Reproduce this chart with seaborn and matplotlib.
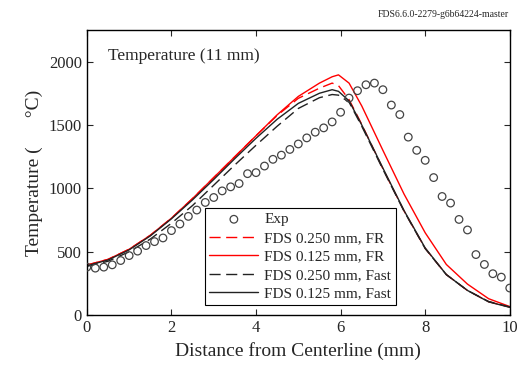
import numpy as np
import pandas as pd
import matplotlib
matplotlib.use("Agg")
import matplotlib.pyplot as plt
import seaborn as sns

# experimental data (every 0.2 mm)
exp_x = [round(0.2 * i, 1) for i in range(51)]
exp_t = [379, 371, 379, 397, 431, 470, 505, 549, 580, 609,
         667, 719, 779, 829, 889, 928, 980, 1012, 1038, 1116,
         1124, 1176, 1229, 1262, 1307, 1350, 1398, 1443, 1477, 1524,
         1600, 1712, 1770, 1817, 1830, 1778, 1657, 1582, 1404, 1300,
         1221, 1085, 936, 884, 755, 672, 478, 400, 327, 300, 214]

# FDS results
fds_x = [0, 0.5, 1, 1.5, 2, 2.5, 3, 3.5, 4, 4.5, 5, 5.5, 5.8, 5.95, 6.2, 6.5, 7, 7.5, 8, 8.5, 9, 9.5, 10]
fr_250 = [395, 440, 520, 630, 765, 920, 1085, 1250, 1415, 1575, 1710, 1790, 1830, 1810, 1700, 1505,
          1155, 822, 527, 320, 195, 106, 64]
fr_125 = [395, 440, 520, 630, 765, 920, 1085, 1250, 1415, 1580, 1725, 1830, 1880, 1895, 1830, 1650,
          1300, 955, 650, 400, 245, 130, 68]
fast_250 = [385, 425, 500, 600, 725, 865, 1025, 1185, 1340, 1490, 1630, 1715, 1740, 1735, 1680, 1490,
            1150, 820, 525, 320, 195, 108, 65]
fast_125 = [390, 435, 515, 625, 760, 910, 1070, 1235, 1395, 1545, 1670, 1750, 1778, 1765, 1690, 1500,
            1160, 825, 530, 320, 195, 105, 62]

sns.set_style("ticks")
plt.rcParams["font.family"] = ["Liberation Serif", "DejaVu Serif"]

fig, ax = plt.subplots(figsize=(5.17, 3.73), dpi=100)
fig.subplots_adjust(left=0.168, right=0.986, bottom=0.155, top=0.92)

exp_df = pd.DataFrame({"x": exp_x, "T": exp_t})
sns.scatterplot(data=exp_df, x="x", y="T", ax=ax, marker="o", s=30,
                facecolors="none", edgecolor="#444444", linewidth=0.9, label="Exp", zorder=3)

sns.lineplot(x=fds_x, y=fr_250, ax=ax, color="red", lw=1.0,
             label="FDS 0.250 mm, FR").lines[-1].set_dashes([8, 4])
sns.lineplot(x=fds_x, y=fr_125, ax=ax, color="red", lw=1.0, label="FDS 0.125 mm, FR")
sns.lineplot(x=fds_x, y=fast_250, ax=ax, color="#222222", lw=1.0,
             label="FDS 0.250 mm, Fast").lines[-1].set_dashes([8, 4])
sns.lineplot(x=fds_x, y=fast_125, ax=ax, color="#222222", lw=1.0, label="FDS 0.125 mm, Fast")

ax.set_xlim(0, 10)
ax.set_ylim(0, 2250)
ax.set_xticks([0, 2, 4, 6, 8, 10])
ax.set_yticks([0, 500, 1000, 1500, 2000])
ax.tick_params(direction="in", top=True, right=True, labelsize=12, length=4)
for s in ax.spines.values():
    s.set_linewidth(1.0)
    s.set_color("black")

ax.set_xlabel("Distance from Centerline (mm)", fontsize=14)
ax.set_ylabel("Temperature (      \u00b0C)", fontsize=14)
ax.text(0.05, 0.895, "Temperature (11 mm)", transform=ax.transAxes, fontsize=12.5)
fig.text(0.985, 0.955, "FDS6.6.0-2279-g6b64224-master", ha="right", fontsize=7)

leg = ax.legend(loc="lower left", bbox_to_anchor=(0.279, 0.035), fontsize=11,
                frameon=True, fancybox=False, edgecolor="black", framealpha=1,
                handlelength=3.2, borderpad=0.3, labelspacing=0.32, handletextpad=0.4,
                borderaxespad=0)
leg.get_frame().set_linewidth(0.8)

fig.savefig("out.png", dpi=100)
